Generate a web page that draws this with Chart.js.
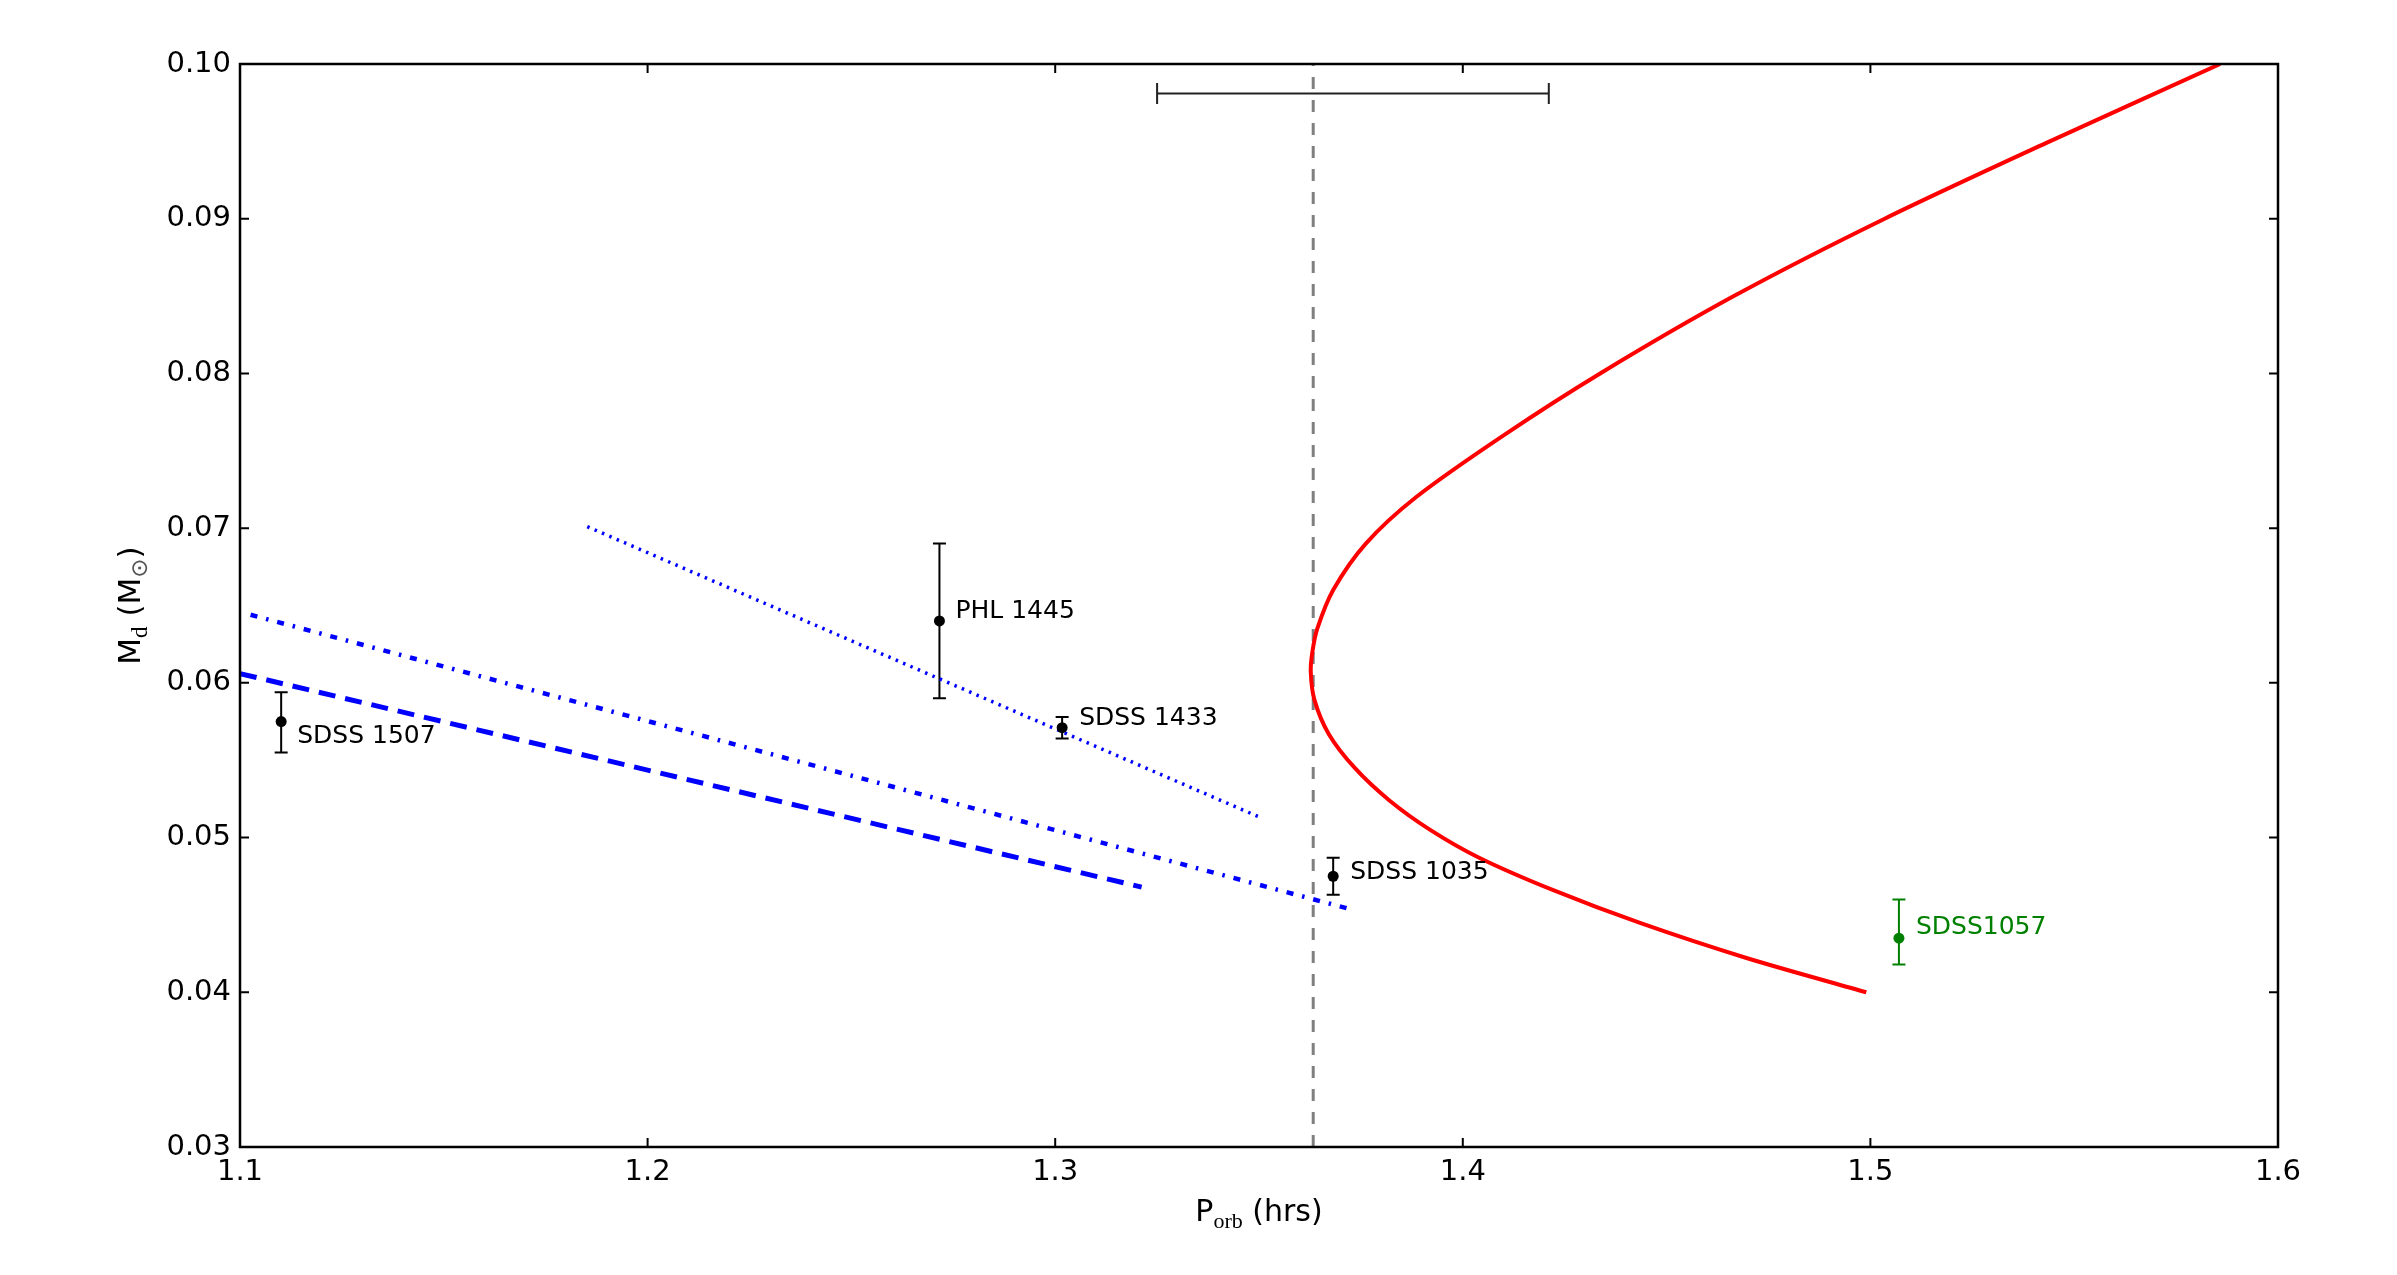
<!DOCTYPE html>
<html><head><meta charset="utf-8">
<script src="https://cdn.jsdelivr.net/npm/chart.js@4.4.1/dist/chart.umd.min.js"></script>
<style>html,body{margin:0;padding:0;background:#fff;overflow:hidden}#wrap{width:2397px;height:1275px}</style>
</head><body><div id="wrap"><canvas id="c" width="2397" height="1275"></canvas></div>
<script>
// ---------- data ----------
const xTicks = [1.1, 1.2, 1.3, 1.4, 1.5, 1.6];
const yTicks = [0.03, 0.04, 0.05, 0.06, 0.07, 0.08, 0.09, 0.10];

const objNames = ['SDSS 1507', 'PHL 1445', 'SDSS 1433', 'SDSS 1035'];
const objP     = [1.1101, 1.2716, 1.3017, 1.3682];
const objM     = [0.0575, 0.0640, 0.0571, 0.0475];
const objErrLo = [0.0020, 0.0050, 0.0007, 0.0012];
const objErrHi = [0.0019, 0.0050, 0.0007, 0.0012];

const greenNames = ['SDSS1057'];
const greenP     = [1.507];
const greenM     = [0.0435];
const greenErrLo = [0.0017];
const greenErrHi = [0.0025];

const periodMinP = 1.3633;
const periodLo   = 1.3250;
const periodHi   = 1.4211;
const periodBarM = 0.0981;

const redP = [1.5858, 1.5440, 1.5035, 1.4665, 1.4337, 1.4100, 1.3885, 1.3762, 1.3682, 1.3643, 1.3631, 1.3627,
              1.3636, 1.3671, 1.3735, 1.3820, 1.3920, 1.4040, 1.4222, 1.4433, 1.4698, 1.4990];
const redM = [0.1000, 0.0950, 0.0900, 0.0850, 0.0800, 0.0760, 0.0720, 0.0690, 0.0660, 0.0635, 0.0620, 0.0607,
              0.0589, 0.0567, 0.0545, 0.0524, 0.0505, 0.0487, 0.0466, 0.0445, 0.0422, 0.0400];

const dashedP  = [1.1000, 1.3212];
const dashedM  = [0.0606, 0.0468];
const dashDotP = [1.1026, 1.3734];
const dashDotM = [0.0644, 0.0453];
const dottedP  = [1.1852, 1.3503];
const dottedM  = [0.0701, 0.0513];

// ---------- helpers ----------
const pts = (xs, ys) => xs.map((x, i) => ({x: x, y: ys[i]}));
const SANS = "'DejaVu Sans'";
const SERIF = "'Liberation Serif'";
const labelOffsets = [[16, 15], [16, -9], [17, -9], [17, -4]];
const greenOffsets = [[17, -11]];

const errorBars = {
  id: 'errorBars',
  beforeDatasetsDraw(chart) {
    const {ctx, scales: {x, y}} = chart;
    ctx.save();
    const vbar = (px, m, lo, hi, color) => {
      const X = x.getPixelForValue(px);
      const Y1 = y.getPixelForValue(m - lo), Y2 = y.getPixelForValue(m + hi);
      ctx.strokeStyle = color; ctx.lineWidth = 2;
      ctx.beginPath();
      ctx.moveTo(X, Y1); ctx.lineTo(X, Y2);
      ctx.moveTo(X - 6.5, Y1); ctx.lineTo(X + 6.5, Y1);
      ctx.moveTo(X - 6.5, Y2); ctx.lineTo(X + 6.5, Y2);
      ctx.stroke();
    };
    objP.forEach((p, i) => vbar(p, objM[i], objErrLo[i], objErrHi[i], '#000'));
    greenP.forEach((p, i) => vbar(p, greenM[i], greenErrLo[i], greenErrHi[i], '#008000'));
    const X1 = x.getPixelForValue(periodLo), X2 = x.getPixelForValue(periodHi);
    const Y = y.getPixelForValue(periodBarM);
    ctx.strokeStyle = '#222'; ctx.lineWidth = 2;
    ctx.beginPath();
    ctx.moveTo(X1, Y); ctx.lineTo(X2, Y);
    ctx.moveTo(X1, Y - 10.5); ctx.lineTo(X1, Y + 10.5);
    ctx.moveTo(X2, Y - 10.5); ctx.lineTo(X2, Y + 10.5);
    ctx.stroke();
    ctx.restore();
  }
};

const labelsAndFrame = {
  id: 'labelsAndFrame',
  afterDatasetsDraw(chart) {
    const {ctx, scales: {x, y}} = chart;
    ctx.save();
    ctx.font = '25px ' + SANS;
    ctx.textAlign = 'left'; ctx.textBaseline = 'middle';
    ctx.fillStyle = '#000';
    objNames.forEach((n, i) => {
      ctx.fillText(n, x.getPixelForValue(objP[i]) + labelOffsets[i][0], y.getPixelForValue(objM[i]) + labelOffsets[i][1]);
    });
    ctx.fillStyle = '#008000';
    greenNames.forEach((n, i) => {
      ctx.fillText(n, x.getPixelForValue(greenP[i]) + greenOffsets[i][0], y.getPixelForValue(greenM[i]) + greenOffsets[i][1]);
    });
    ctx.restore();
  },
  afterDraw(chart) {
    const {ctx, chartArea: a, scales: {x, y}} = chart;
    ctx.save();
    ctx.strokeStyle = '#000';
    ctx.lineWidth = 2;
    ctx.beginPath();
    xTicks.forEach(v => {
      const X = x.getPixelForValue(v);
      ctx.moveTo(X, a.bottom); ctx.lineTo(X, a.bottom - 9);
      ctx.moveTo(X, a.top); ctx.lineTo(X, a.top + 9);
    });
    yTicks.forEach(v => {
      const Y = y.getPixelForValue(v);
      ctx.moveTo(a.left, Y); ctx.lineTo(a.left + 9, Y);
      ctx.moveTo(a.right, Y); ctx.lineTo(a.right - 9, Y);
    });
    ctx.stroke();
    ctx.lineWidth = 2.5;
    ctx.strokeRect(a.left, a.top, a.right - a.left, a.bottom - a.top);

    const drawRich = (segs) => {
      let w = 0;
      segs.forEach(s => { ctx.font = s.f; s.w = ctx.measureText(s.t).width; w += s.w; });
      let cx = -w / 2;
      segs.forEach(s => { ctx.font = s.f; ctx.fillStyle = s.c || '#000'; ctx.fillText(s.t, cx, s.dy || 0); cx += s.w; });
    };
    ctx.textAlign = 'left'; ctx.textBaseline = 'alphabetic';
    ctx.save();
    ctx.translate((a.left + a.right) / 2, 1221);
    drawRich([
      {t: 'P', f: '30px ' + SANS},
      {t: 'orb', f: '22px ' + SERIF, dy: 7},
      {t: ' (hrs)', f: '30px ' + SANS}
    ]);
    ctx.restore();
    ctx.save();
    ctx.translate(140, (a.top + a.bottom) / 2);
    ctx.rotate(-Math.PI / 2);
    drawRich([
      {t: 'M', f: '31px ' + SANS},
      {t: 'd', f: '23px ' + SERIF, dy: 7},
      {t: ' (M', f: '31px ' + SANS},
      {t: '\u2299', f: '23px ' + SANS, dy: 7, c: '#555'},
      {t: ')', f: '31px ' + SANS}
    ]);
    ctx.restore();
    ctx.restore();
  }
};

const lineDs = (data, color, width, dash, order) => ({
  data, showLine: true, fill: false, borderColor: color, borderWidth: width,
  borderDash: dash, pointRadius: 0, pointHoverRadius: 0, order, tension: 0
});

const redDs = lineDs(pts(redP, redM), '#ff0000', 4, [], 5);
redDs.tension = 0.3;

new Chart(document.getElementById('c'), {
  type: 'scatter',
  data: {
    datasets: [
      {data: pts(objP, objM), pointRadius: 5.5, pointBackgroundColor: '#000', pointBorderWidth: 0, showLine: false, order: 0},
      {data: pts(greenP, greenM), pointRadius: 5.5, pointBackgroundColor: '#008000', pointBorderWidth: 0, showLine: false, order: 0},
      redDs,
      lineDs(pts(dashedP, dashedM), '#0000ff', 5, [17, 10], 4),
      lineDs(pts(dashDotP, dashDotM), '#0000ff', 4.5, [7, 9, 2.5, 9], 4),
      lineDs(pts(dottedP, dottedM), '#0000ff', 3.5, [2.5, 5.5], 4),
      lineDs([{x: periodMinP, y: yTicks[0]}, {x: periodMinP, y: yTicks[yTicks.length - 1]}], '#7f7f7f', 3, [12, 11], 6)
    ]
  },
  options: {
    responsive: false,
    devicePixelRatio: 1,
    animation: false,
    layout: {padding: {left: 0, right: 119, top: 64, bottom: 0}},
    plugins: {legend: {display: false}, tooltip: {enabled: false}},
    scales: {
      x: {
        type: 'linear', min: xTicks[0], max: xTicks[xTicks.length - 1],
        afterFit(s) { s.height = 128; },
        afterBuildTicks(s) { s.ticks = xTicks.map(v => ({value: v})); },
        grid: {display: false, drawTicks: false},
        border: {display: false},
        ticks: {font: {family: 'DejaVu Sans', size: 29}, color: '#000', padding: 8, maxRotation: 0, autoSkip: false,
                callback: v => v.toFixed(1)}
      },
      y: {
        type: 'linear', min: yTicks[0], max: yTicks[yTicks.length - 1],
        afterFit(s) { s.width = 240; },
        afterBuildTicks(s) { s.ticks = yTicks.map(v => ({value: v})); },
        grid: {display: false, drawTicks: false},
        border: {display: false},
        ticks: {font: {family: 'DejaVu Sans', size: 29}, color: '#000', padding: 9, autoSkip: false,
                callback: v => v.toFixed(2)}
      }
    }
  },
  plugins: [errorBars, labelsAndFrame]
});
</script>
</body></html>
